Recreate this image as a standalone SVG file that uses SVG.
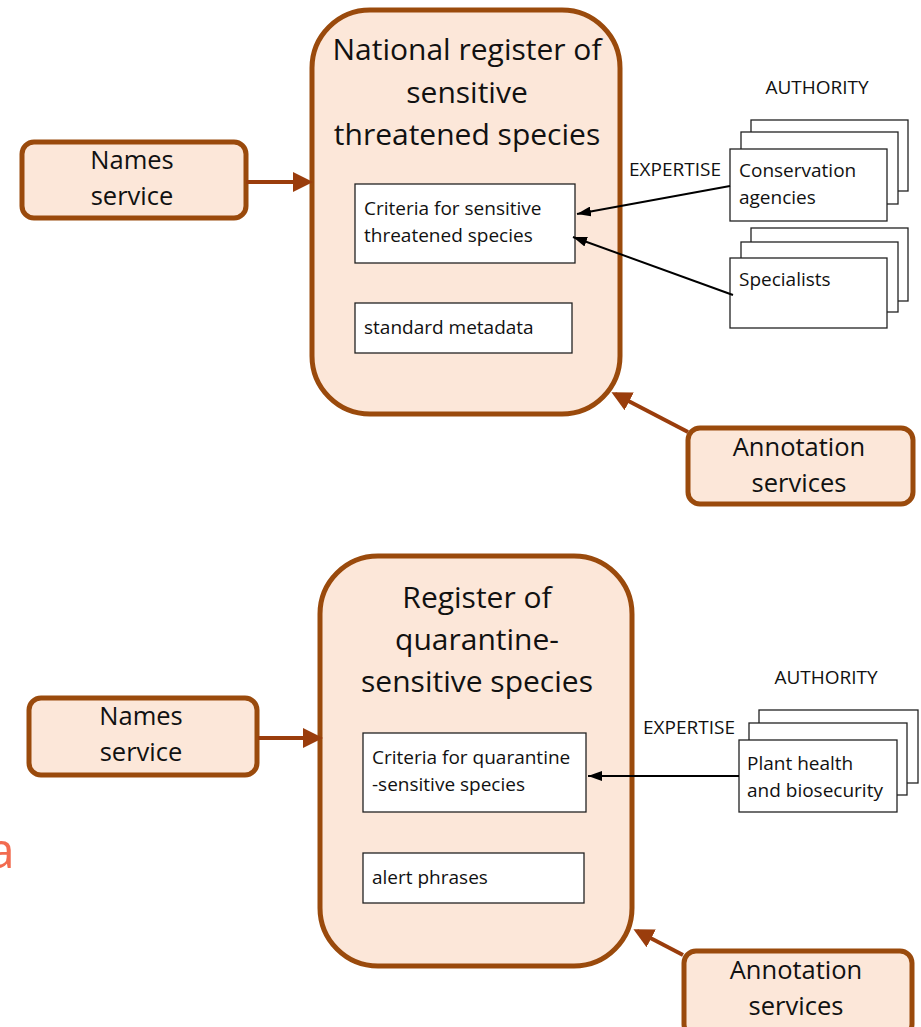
<svg xmlns="http://www.w3.org/2000/svg" width="921" height="1027" viewBox="0 0 921 1027">
<defs>
<style>
.main{fill:#fce7d9;stroke:#9a4a0c;stroke-width:5}
.svc{fill:#fce7d9;stroke:#9a4a0c;stroke-width:5}
.box{fill:#fff;stroke:#222;stroke-width:1.3}
.t{font-family:"Open Sans","Liberation Sans",sans-serif;fill:#111}
.big{font-size:30px;text-anchor:middle}
.mid{font-size:25.5px;text-anchor:middle}
.sm{font-size:19px}
.lab{font-size:19px}
.bc{stroke:#9a3d0c;stroke-width:4;fill:none}
.kc{stroke:#000;stroke-width:2;fill:none}
</style>
<marker id="ab" markerWidth="5" markerHeight="5" refX="4" refY="2.5" orient="auto" markerUnits="strokeWidth"><path d="M0,0L5,2.5L0,5z" fill="#9a3d0c"/></marker>
<marker id="ak" markerWidth="14" markerHeight="10" refX="14" refY="5" orient="auto" markerUnits="userSpaceOnUse"><path d="M0,0L14,5L0,10z" fill="#000"/></marker>
</defs>

<text class="t" x="-13" y="868" font-size="50" style="fill:#f26b4f">a</text>

<g id="national-register">
<rect class="main" x="312" y="10" width="308" height="404" rx="58"/>
<text class="t big" x="467" y="60">National register of</text>
<text class="t big" x="467" y="103">sensitive</text>
<text class="t big" x="467" y="145">threatened species</text>
</g>
<g id="criteria-sensitive">
<rect class="box" x="355" y="184" width="220" height="79"/>
<text class="t sm" x="364" y="215">Criteria for sensitive</text>
<text class="t sm" x="364" y="242">threatened species</text>
</g>
<g id="standard-metadata">
<rect class="box" x="355" y="303" width="217" height="50"/>
<text class="t sm" x="364" y="334">standard metadata</text>
</g>
<g id="names-service-1">
<rect class="svc" x="22" y="142" width="224" height="76" rx="12"/>
<text class="t mid" x="132" y="169">Names</text>
<text class="t mid" x="132" y="205">service</text>
</g>
<g id="annotation-services-1">
<rect class="svc" x="688" y="428" width="225" height="76" rx="12"/>
<text class="t mid" x="799" y="456">Annotation</text>
<text class="t mid" x="799" y="492">services</text>
</g>
<text class="t lab" x="817" y="94" text-anchor="middle">AUTHORITY</text>
<text class="t lab" x="629" y="176">EXPERTISE</text>
<g id="conservation-agencies">
<rect class="box" x="751" y="120" width="157" height="71"/>
<rect class="box" x="741" y="132" width="157" height="72"/>
<rect class="box" x="730" y="149" width="157" height="72"/>
<text class="t sm" x="739" y="177">Conservation</text>
<text class="t sm" x="739" y="204">agencies</text>
</g>
<g id="specialists">
<rect class="box" x="751" y="228" width="157" height="73"/>
<rect class="box" x="741" y="242" width="157" height="70"/>
<rect class="box" x="730" y="258" width="157" height="70"/>
<text class="t sm" x="739" y="286">Specialists</text>
</g>

<g id="quarantine-register">
<rect class="main" x="320" y="556" width="312" height="410" rx="58"/>
<text class="t big" x="477" y="608">Register of</text>
<text class="t big" x="477" y="650">quarantine-</text>
<text class="t big" x="477" y="692">sensitive species</text>
</g>
<g id="criteria-quarantine">
<rect class="box" x="363" y="733" width="223" height="79"/>
<text class="t sm" x="372" y="764">Criteria for quarantine</text>
<text class="t sm" x="372" y="791">-sensitive species</text>
</g>
<g id="alert-phrases">
<rect class="box" x="363" y="853" width="221" height="50"/>
<text class="t sm" x="372" y="884">alert phrases</text>
</g>
<g id="names-service-2">
<rect class="svc" x="29" y="698" width="228" height="77" rx="12"/>
<text class="t mid" x="141" y="725">Names</text>
<text class="t mid" x="141" y="761">service</text>
</g>
<g id="annotation-services-2">
<rect class="svc" x="684" y="951" width="228" height="85" rx="12"/>
<text class="t mid" x="796" y="979">Annotation</text>
<text class="t mid" x="796" y="1015">services</text>
</g>
<text class="t lab" x="826" y="684" text-anchor="middle">AUTHORITY</text>
<text class="t lab" x="643" y="734">EXPERTISE</text>
<g id="plant-health">
<rect class="box" x="759" y="710" width="159" height="73"/>
<rect class="box" x="749" y="723" width="158" height="72"/>
<rect class="box" x="739" y="740" width="158" height="72"/>
<text class="t sm" x="747" y="770">Plant health</text>
<text class="t sm" x="747" y="797">and biosecurity</text>
</g>

<g id="connectors">
<line class="bc" x1="246" y1="182" x2="309" y2="182" marker-end="url(#ab)"/>
<line class="bc" x1="688" y1="432" x2="615" y2="394" marker-end="url(#ab)"/>
<line class="kc" x1="730" y1="186" x2="577" y2="214" marker-end="url(#ak)"/>
<line class="kc" x1="733" y1="295" x2="573" y2="237" marker-end="url(#ak)"/>
<line class="bc" x1="258" y1="738" x2="319" y2="738" marker-end="url(#ab)"/>
<line class="bc" x1="683" y1="955" x2="637" y2="931" marker-end="url(#ab)"/>
<line class="kc" x1="739" y1="776" x2="588" y2="776" marker-end="url(#ak)"/>
</g>
</svg>
